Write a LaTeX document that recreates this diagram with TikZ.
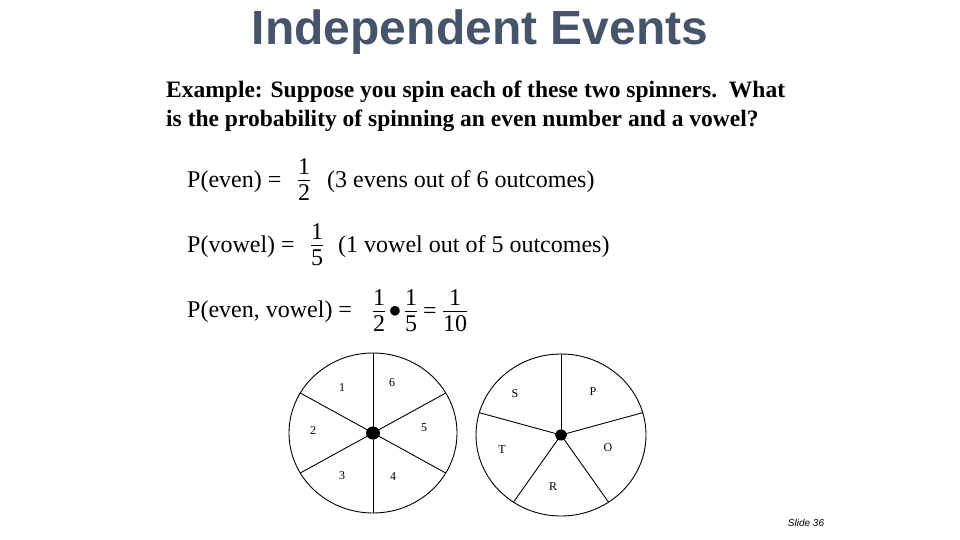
\documentclass[tikz,border=0pt]{standalone}
\usepackage{fontspec}
\setmainfont{Liberation Serif}
\setsansfont{Liberation Sans}
\newcommand\myfr[2]{\begin{tabular}{@{}c@{}}#1\\[-3pt]\hline\rule{0pt}{20pt}#2\end{tabular}}
\begin{document}
\begin{tikzpicture}[x=1pt,y=-1pt,
  body/.style={anchor=west,inner sep=0pt,font=\fontsize{24}{28}\selectfont},
  frac/.style={inner sep=0pt,font=\fontsize{24}{28}\selectfont},
  lab/.style={inner sep=0pt,font=\fontsize{12}{14}\selectfont},
  wheel/.style={line width=0.9pt}]
\useasboundingbox (0,0) rectangle (960,540);
\node (title) at (480,32) {\sffamily\bfseries\fontsize{48}{54}\selectfont\color[rgb]{0.27,0.33,0.42}Independent Events};
\node[anchor=base west,inner sep=0pt,font=\bfseries\fontsize{23.5}{28}\selectfont] (ex1) at (166,98) {Example: Suppose you spin each of these two spinners.\ \ What};
\node[anchor=base west,inner sep=0pt,font=\bfseries\fontsize{23.5}{28}\selectfont] (ex2) at (166,127) {is the probability of spinning an even number and a vowel?};
\node[body] (pe) at (187,182) {P(even) =};
\node[frac] (f1) at (304,182) {\myfr{1}{2}};
\node[body] (t1) at (327,182) {(3 evens out of 6 outcomes)};
\node[body] (pv) at (187,247) {P(vowel) =};
\node[frac] (f2) at (317,247) {\myfr{1}{5}};
\node[body] (t2) at (338,247) {(1 vowel out of 5 outcomes)};
\node[body] (pev) at (187,312) {P(even, vowel) =};
\node[frac] (f3) at (379,313) {\myfr{1}{2}};
\node[frac,font=\fontsize{30}{30}\selectfont] (dt) at (395,312) {$\bullet$};
\node[frac] (f4) at (411,313) {\myfr{1}{5}};
\node[frac] (eq) at (430,313) {=};
\node[frac] (f5) at (455,313) {\myfr{1}{10}};
% spinner 1
\coordinate (c1) at (373,433);
\draw[wheel] (c1) ellipse [x radius=84, y radius=80];
\foreach \a in {90,30,-30,-90,150,210}
  \draw[wheel] (c1) -- ++({84*cos(\a)},{-80*sin(\a)});
\fill (c1) ellipse [x radius=7, y radius=6.5];
\node[lab] (n1) at (342,388) {1};
\node[lab] (n6) at (392,383) {6};
\node[lab] (n2) at (313,431) {2};
\node[lab] (n5) at (424,428) {5};
\node[lab] (n3) at (342,476) {3};
\node[lab] (n4) at (393,477) {4};
% spinner 2
\coordinate (c2) at (561,435);
\draw[wheel] (c2) ellipse [x radius=85, y radius=81];
\foreach \a in {90,16,-56,-124,164}
  \draw[wheel] (c2) -- ++({85*cos(\a)},{-81*sin(\a)});
\fill (c2) ellipse [x radius=6, y radius=5.5];
\node[lab] (s) at (515,394) {S};
\node[lab] (p) at (593,392) {P};
\node[lab] (t) at (502,450) {T};
\node[lab] (o) at (608,448) {O};
\node[lab] (r) at (553,487) {R};
\node[inner sep=0pt,font=\sffamily\itshape\fontsize{10}{12}\selectfont] (sl) at (806,523) {Slide 36};
\end{tikzpicture}
\end{document}
